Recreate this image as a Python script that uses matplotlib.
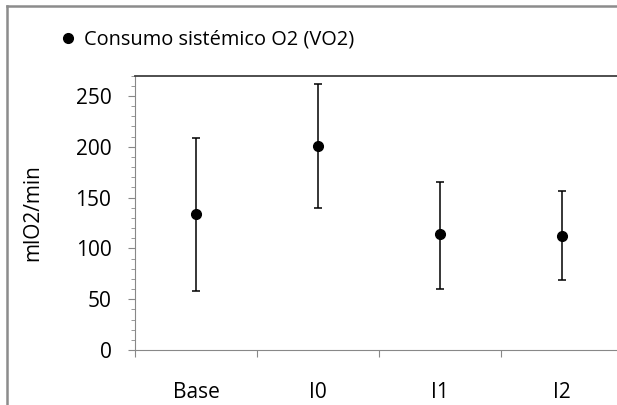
import numpy as np
import matplotlib
matplotlib.use('Agg')
import matplotlib.pyplot as plt
from matplotlib.lines import Line2D
from matplotlib.ticker import MultipleLocator

# datos
categorias = ['Base', 'I0', 'I1', 'I2']
media = [134, 201, 114, 112]
superior = [209, 262, 165, 156]
inferior = [58, 140, 60, 69]

plt.rcParams['font.family'] = ['Open Sans', 'DejaVu Sans']

W, H = 617, 405
fig = plt.figure(figsize=(W / 100, H / 100), dpi=100)
ax = fig.add_axes([135 / W, 55 / H, 488 / W, 274.5 / H])

x = np.arange(len(categorias))
m = np.array(media)
err = [m - np.array(inferior), np.array(superior) - m]
ax.errorbar(x, m, yerr=err, fmt='none', ecolor='black', elinewidth=1.1,
            capsize=3, capthick=1.1)
ax.plot(x, m, 'o', color='black', markersize=7, label='Consumo sistémico O2 (VO2)')

ax.set_xlim(-0.5, 3.5)
ax.set_ylim(0, 270)
ax.yaxis.set_major_locator(MultipleLocator(50))
ax.yaxis.set_minor_locator(MultipleLocator(10))
ax.set_xticks(np.arange(-0.5, 3.6, 1))
ax.set_xticklabels([])
ax.set_xticks(x, minor=True)
ax.set_xticklabels(categorias, minor=True, fontsize=15)
ax.tick_params(axis='x', which='major', length=5, color='#888888')
ax.tick_params(axis='x', which='minor', length=0, pad=23)
ax.tick_params(axis='y', which='major', length=5, color='#888888', labelsize=15, pad=12)
ax.tick_params(axis='y', which='minor', length=3, color='#888888')
ax.set_ylabel('mlO2/min', fontsize=15, labelpad=23)

ax.spines['right'].set_visible(False)
ax.spines['left'].set_color('#888888')
ax.spines['bottom'].set_color('#888888')
ax.spines['top'].set_color('#404040')
ax.spines['top'].set_linewidth(1.3)

ax.legend(loc='center left', bbox_to_anchor=(60 / W, 1 - 40 / H),
          bbox_transform=fig.transFigure, frameon=False, fontsize=14.4,
          borderaxespad=0, borderpad=0, handletextpad=0.38, handlelength=0.8)

# marco del grafico
fig.add_artist(Line2D([7 / W, 7 / W], [0, 1 - 5.5 / H], color='#8c8c8c', lw=1.8,
                      transform=fig.transFigure))
fig.add_artist(Line2D([7 / W, 1], [1 - 5.5 / H, 1 - 5.5 / H], color='#8c8c8c', lw=1.8,
                      transform=fig.transFigure))

fig.savefig('out.png', dpi=100)
